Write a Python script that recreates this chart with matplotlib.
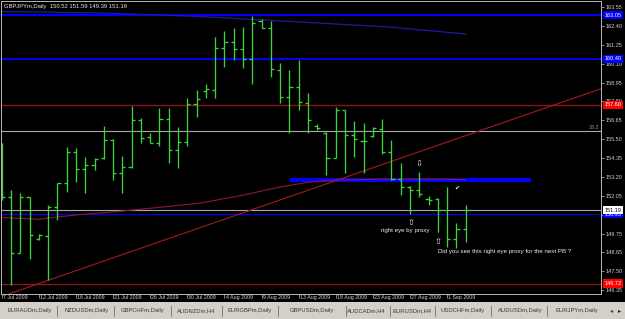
import matplotlib
matplotlib.use("Agg")
import matplotlib.pyplot as plt
import matplotlib.transforms as mtransforms
from matplotlib.patches import Rectangle
import numpy as np

# ---------------- data ----------------
chart_title = "GBPJPYm,Daily  150.52 151.59 149.39 151.19"

opens = [154.90, 152.01, 148.58, 152.01, 149.41, 149.63, 151.36, 152.86, 154.75, 153.67,
         153.94, 154.34, 155.46, 153.47, 153.80, 156.67, 155.66, 155.29, 156.74, 154.85,
         155.35, 157.63, 158.41, 158.50, 161.04, 161.44, 160.98, 160.37, 162.72, 162.28,
         159.72, 158.09, 158.66, 157.69, 156.31, 155.88, 154.39, 157.26, 155.76, 155.41,
         155.70, 156.10, 154.75, 153.08, 152.58, 152.41, 151.85, 151.85, 151.20, 149.41,
         150.02]
highs = [155.28, 152.41, 152.23, 152.01, 149.74, 151.50, 152.86, 155.05, 154.97, 154.44,
         154.36, 156.31, 155.52, 154.48, 157.53, 156.80, 155.88, 157.40, 157.39, 156.27,
         157.99, 158.50, 158.87, 161.71, 162.11, 162.27, 162.31, 163.00, 162.80, 162.69,
         160.12, 159.70, 160.33, 158.32, 156.43, 155.93, 157.45, 157.30, 156.61, 156.51,
         156.27, 156.74, 155.46, 154.04, 152.66, 153.53, 152.05, 151.91, 152.62, 150.42,
         151.50]
lows = [151.80, 146.63, 148.58, 148.22, 149.37, 146.94, 150.59, 152.31, 152.92, 152.25,
        153.63, 154.28, 153.03, 152.23, 153.78, 155.27, 155.27, 155.09, 154.04, 153.75,
        155.09, 156.84, 157.99, 158.00, 159.92, 160.31, 159.82, 158.87, 162.25, 159.29,
        157.69, 155.86, 157.30, 155.86, 156.04, 153.33, 154.34, 153.47, 154.44, 153.43,
        155.64, 154.61, 153.03, 152.11, 150.95, 152.01, 151.50, 149.88, 148.96, 148.87,
        149.26]
closes = [152.01, 148.58, 152.01, 149.68, 149.68, 151.36, 152.86, 154.75, 153.67, 153.94,
          154.30, 155.46, 153.47, 153.80, 156.67, 155.56, 155.29, 156.74, 154.85, 155.35,
          157.63, 157.93, 158.54, 161.04, 161.44, 160.98, 160.37, 162.56, 162.28, 159.75,
          158.07, 158.66, 157.74, 156.66, 156.17, 154.39, 157.26, 155.76, 155.49, 155.41,
          156.16, 154.75, 153.08, 152.58, 152.41, 152.15, 151.81, 151.20, 149.41, 150.02,
          151.19]

date_label_bars = [0, 4, 8, 12, 16, 20, 24, 28, 32, 36, 40, 44, 48]
date_labels = ["7 Jul 2009", "12 Jul 2009", "16 Jul 2009", "21 Jul 2009", "26 Jul 2009",
               "30 Jul 2009", "4 Aug 2009", "9 Aug 2009", "13 Aug 2009", "18 Aug 2009",
               "23 Aug 2009", "27 Aug 2009", "1 Sep 2009"]

price_ticks = [163.55, 162.40, 161.25, 160.10, 158.95, 157.80, 156.65, 155.50, 154.35,
               153.20, 152.05, 150.90, 149.75, 148.65, 147.50, 146.35]

blue_levels = [163.05, 160.40]
blue_thin_level = 150.95
red_levels = [157.60, 146.72]
fib_level = 156.00
fib_text = "38.2"
bid_price = 151.19

band_price = 153.03
band_start_bar = 31.07
band_end_bar = 57.04

trend_bars = [2.0, 30.0]
trend_prices = [146.33, 151.81]

ma_red_bars = [-0.2, 4.1, 5.2, 8.4, 12, 16, 21.4, 26, 30, 33, 36, 40, 45, 50]
ma_red_vals = [150.75, 150.63, 150.72, 150.92, 151.08, 151.30, 151.62, 152.10, 152.60,
               152.88, 153.02, 153.06, 153.07, 153.05]

ma_blue_bars = [-0.2, 10.6, 21.4, 32.1, 41.8, 50]
ma_blue_vals = [163.28, 163.19, 162.97, 162.64, 162.33, 161.91]

tab_names = ["EURAUDm,Daily", "NZDUSDm,Daily", "GBPCHFm,Daily", "AUDNZDm,H4",
             "EURGBPm,Daily", "GBPUSDm,Daily", "AUDCADm,H4", "EURUSDm,H4",
             "USDCHFm,Daily", "AUDUSDm,Daily", "EURJPYm,Daily"]

note1 = "right eye by proxy"
note2 = "Did you see this right eye proxy for the next PB ?"

# ---------------- layout ----------------
W, H = 625, 319
FONT = "Liberation Sans"
plt.rcParams["font.family"] = [FONT, "DejaVu Sans"]

def fx(px):
    return px / W

def fy(py):
    return 1 - py / H

fig = plt.figure(figsize=(6.25, 3.19), dpi=100, facecolor="black")
ax_l, ax_r, ax_t, ax_b = 1.5, 600.7, 1.0, 294.0
ax = fig.add_axes([fx(ax_l), fy(ax_b), (ax_r - ax_l) / W, (ax_b - ax_t) / H])
ax.set_facecolor("black")

bar_px = 9.28
x0 = -(1.7 - ax_l) / bar_px
x1 = x0 + (ax_r - ax_l) / bar_px
ax.set_xlim(x0, x1)
ax.set_ylim(146.086, 163.915)

# levels
for p in blue_levels:
    ax.axhline(p, color="#0000ff", lw=1.4, zorder=1)
ax.axhline(blue_thin_level, color="#0000ee", lw=0.8, zorder=1)
for p in red_levels:
    ax.axhline(p, color="#8e1414", lw=1.0, zorder=1)
ax.axhline(fib_level, color="#a8a8a8", lw=0.8, zorder=1)
ax.axhline(bid_price, color="#a8a8a8", lw=0.8, zorder=1)
ax.text(0.997, fib_level + 0.05, fib_text, transform=ax.get_yaxis_transform(),
        ha="right", va="bottom", fontsize=3.8, color="#a0a0a0")

# thick band
ax.hlines(band_price, band_start_bar, band_end_bar, color="#0000ff", lw=2.9, zorder=1)

# trendline (ray)
slope = (trend_prices[1] - trend_prices[0]) / (trend_bars[1] - trend_bars[0])
tx = np.array([trend_bars[0] - 1.5, x1 + 1])
ax.plot(tx, trend_prices[0] + slope * (tx - trend_bars[0]), color="#a31c1c", lw=0.8, zorder=1.2)

# moving averages
ax.plot(ma_red_bars, ma_red_vals, color="#8e1a2a", lw=0.8, zorder=1.3)
ax.plot(ma_blue_bars, ma_blue_vals, color="#1a1aa8", lw=0.9, zorder=1.3)

# OHLC bars
idx = np.arange(len(opens))
green = "#3cd23c"
ax.vlines(idx, lows, highs, color=green, lw=0.95, zorder=2)
ax.hlines(opens, idx - 0.34, idx, color=green, lw=0.95, zorder=2)
ax.hlines(closes, idx, idx + 0.34, color=green, lw=0.95, zorder=2)

# annotations
wcol = "#f0f0f0"
ax.text(45.0, 154.00, "\u21e9", ha="center", va="center", fontsize=6, color=wcol,
        family=["DejaVu Sans"])
ax.text(49.0, 152.50, "\u2714", ha="center", va="center", fontsize=4.5, color=wcol,
        family=["DejaVu Sans"])
ax.text(44.07, 150.45, "\u21e7", ha="center", va="center", fontsize=6, color=wcol,
        family=["DejaVu Sans"])
ax.text(47.05, 149.27, "\u21e7", ha="center", va="center", fontsize=6, color=wcol,
        family=["DejaVu Sans"])
ax.text(40.85, 149.92, note1, ha="left", va="center", fontsize=4.4, color=wcol)
ax.text(47.0, 148.70, note2, ha="left", va="center", fontsize=4.4, color=wcol)

# spines
for s in ax.spines.values():
    s.set_color("#b8b8b8")
    s.set_linewidth(0.7)

# y axis on right
ax.yaxis.tick_right()
ax.set_yticks(price_ticks)
ax.set_yticklabels([f"{v:.2f}" for v in price_ticks])
ax.tick_params(axis="y", length=2, width=0.6, color="#a0a0a0", labelcolor="#d0d0d0",
               labelsize=4.0, pad=1.5)

# x axis dates
ax.set_xticks(date_label_bars)
ax.set_xticklabels(date_labels)
ax.tick_params(axis="x", length=3, width=0.6, color="#a0a0a0", labelcolor="#d0d0d0",
               labelsize=3.8, pad=-2.2)
off = mtransforms.ScaledTranslation(1.2 / 100, 0, fig.dpi_scale_trans)
for lab in ax.get_xticklabels():
    lab.set_ha("left")
    lab.set_transform(lab.get_transform() + off)

# colored price boxes
def price_box(p, text, fc, tc):
    ax.annotate(text, xy=(1.0, p), xycoords=("axes fraction", "data"),
                xytext=(4, 0), textcoords="offset pixels", ha="left", va="center",
                fontsize=4.0, color=tc, annotation_clip=False, zorder=5,
                bbox=dict(boxstyle="square,pad=0.3", fc=fc, ec="none"))

for p in blue_levels:
    price_box(p, f"{p:.2f}", "#0000ff", "white")
for p in red_levels:
    price_box(p, f"{p:.2f}", "#ff0000", "white")
price_box(blue_thin_level, f"{blue_thin_level:.2f}", "#0000ff", "white")
price_box(bid_price, f"{bid_price:.2f}", "#ffffff", "black")

# title
fig.text(fx(3.5), fy(6.3), chart_title, ha="left", va="center", fontsize=4.2, color="#e8e8e8")

# tab strip
fig.patches.append(Rectangle((0, 0), 1, (H - 302) / H, transform=fig.transFigure,
                             fc="#d4d0c8", ec="none", zorder=0))
tab_centers = [29.5, 86.5, 143, 196, 250, 312, 366.5, 412, 463, 520, 576.5]
tab_seps = [57, 114, 171, 222, 278, 346, 390, 435, 491, 547]
for name, cx in zip(tab_names, tab_centers):
    fig.text(fx(cx), fy(310.5), name, ha="center", va="center", fontsize=4.2, color="#3a3a3a")
for sx in tab_seps:
    fig.add_artist(plt.Line2D([fx(sx), fx(sx)], [fy(305.5), fy(315.5)],
                              transform=fig.transFigure, color="#707070", lw=0.6))
fig.text(fx(612), fy(310.5), "\u25c2", ha="center", va="center", fontsize=4.5,
         color="#404040", family=["DejaVu Sans"])
fig.text(fx(619.5), fy(310.5), "\u25b8", ha="center", va="center", fontsize=4.5,
         color="#202020", family=["DejaVu Sans"])

fig.savefig("out.png", dpi=100, facecolor="black")
